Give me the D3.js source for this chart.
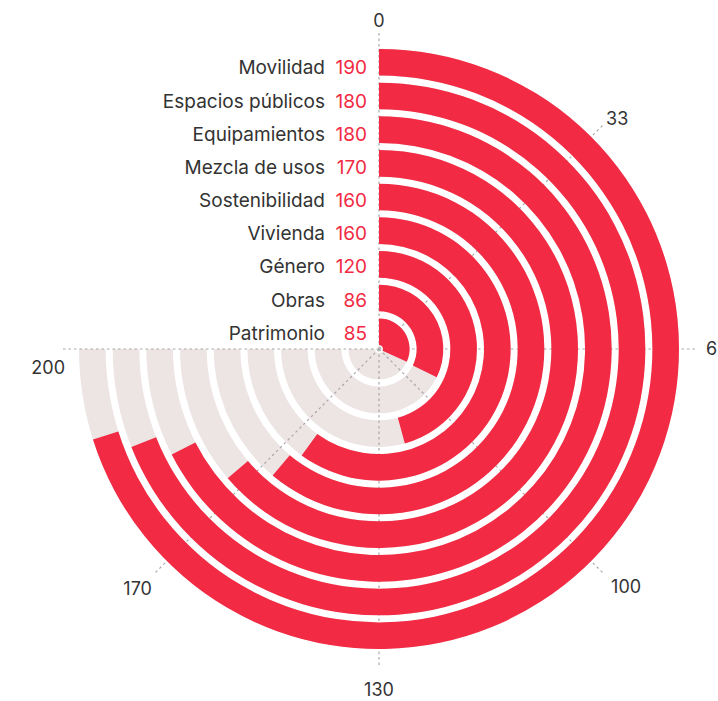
<!DOCTYPE html>
<html>
<head>
<meta charset="utf-8">
<script src="https://cdn.jsdelivr.net/npm/d3@7"></script>
<style>
  html, body { margin: 0; padding: 0; background: #fff; }
  svg { display: block; }
  text { font-family: Inter, "Noto Sans", sans-serif; }
</style>
</head>
<body>
<svg id="chart" width="718" height="701"></svg>
<script>
// ---- data (top to bottom as listed in the chart) ----
const categories = ["Movilidad", "Espacios públicos", "Equipamientos", "Mezcla de usos",
                    "Sostenibilidad", "Vivienda", "Género", "Obras", "Patrimonio"];
const values = [187, 184, 180, 170, 163, 160, 122, 86, 85];
const tickValues = [0, 200/6, 400/6, 100, 800/6, 1000/6, 200];
const tickLabels = ["0", "33", "67", "100", "130", "170", "200"];
const maxValue = 200;

// ---- layout ----
const W = 718, H = 701;
const cx = 379, cy = 349;
const innerR = 4, outerR = 300;
const red = "#f22a43", track = "#ede4e4", textCol = "#333333";

const svg = d3.select("#chart");
const g = svg.append("g").attr("transform", `translate(${cx},${cy})`);

const data = categories.map((c, i) => ({ cat: c, value: values[i] }));

const y = d3.scaleBand()
  .domain(categories.slice().reverse())
  .range([innerR, outerR])
  .paddingInner(0.21)
  .paddingOuter(0);

const x = d3.scaleLinear().domain([0, maxValue]).range([0, 1.5 * Math.PI]);

const arc = d3.arc()
  .innerRadius(d => y(d.cat))
  .outerRadius(d => y(d.cat) + y.bandwidth())
  .startAngle(0);

// background tracks
g.append("g").selectAll("path").data(data).join("path")
  .attr("d", d => arc.endAngle(x(maxValue))(d))
  .attr("fill", track);

// radial grid lines
const gridR = 318;
g.append("g").selectAll("line").data(tickValues).join("line")
  .attr("x1", 0).attr("y1", 0)
  .attr("x2", d => gridR * Math.sin(x(d)))
  .attr("y2", d => -gridR * Math.cos(x(d)))
  .attr("stroke", "#a8a8a8")
  .attr("stroke-width", 1.2)
  .attr("stroke-dasharray", "2.5,3");

// value bars
g.append("g").selectAll("path").data(data).join("path")
  .attr("d", d => arc.endAngle(x(d.value))(d))
  .attr("fill", red);

// category + value labels (slightly compressed spacing as in the reference)
const fmt = d3.format(".2r");
const labelY = d => -(y(d.cat) + y.bandwidth() / 2) * 0.985 + 1;
const lab = g.append("g");
lab.selectAll("text.cat").data(data).join("text")
  .attr("class", "cat")
  .attr("x", -54)
  .attr("y", labelY)
  .attr("dy", "0.36em")
  .attr("text-anchor", "end")
  .attr("fill", textCol)
  .style("font-size", "19px")
  .text(d => d.cat);
lab.selectAll("text.val").data(data).join("text")
  .attr("class", "val")
  .attr("x", -12)
  .attr("y", labelY)
  .attr("dy", "0.36em")
  .attr("text-anchor", "end")
  .attr("fill", red)
  .style("font-size", "19px")
  .text(d => fmt(d.value));

// tick labels around the circle
const tl = g.append("g");
tickValues.forEach((v, i) => {
  const a = x(v);
  const s = Math.sin(a), c = Math.cos(a);
  const diag = Math.abs(s) > 0.3 && Math.abs(c) > 0.3;
  const r = 324;
  let px = r * s, py = -r * c;
  let anchor = s > 0.3 ? "start" : (s < -0.3 ? "end" : "middle");
  let dy = c > 0.3 ? "0.1em" : (c < -0.3 ? "0.85em" : "0.36em");
  if (diag && c > 0.3) { py += 3; px -= 2; }
  if (diag && c < -0.3) { px += s > 0 ? 3 : 2; py += s > 0 ? 0 : 2; }
  if (!diag && s > 0.9) { px += 3; }
  if (i === tickValues.length - 1) { py += 19; px += 10; }
  if (Math.abs(c + 1) < 1e-6) { py += 8; }
  tl.append("text")
    .attr("x", px).attr("y", py).attr("dy", dy)
    .attr("text-anchor", anchor)
    .attr("fill", textCol)
    .style("font-size", "18px")
    .text(tickLabels[i]);
});
</script>
</body>
</html>
